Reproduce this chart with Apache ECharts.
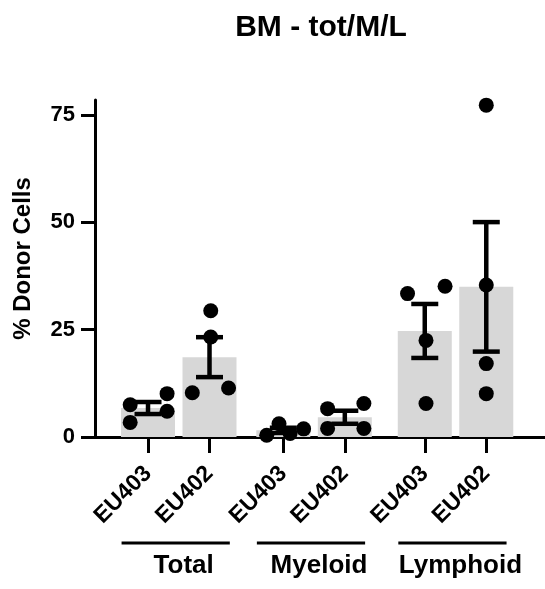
<!DOCTYPE html>
<html>
<head>
<meta charset="utf-8">
<script src="https://cdn.jsdelivr.net/npm/echarts@6/dist/echarts.min.js"></script>
<style>
  html, body { margin: 0; padding: 0; background: #fff; }
  #chart { width: 545px; height: 589px; }
</style>
</head>
<body>
<div id="chart"></div>
<script>
// ---- data ----
const groups = ['Total', 'Myeloid', 'Lymphoid'];
const donors = ['EU403', 'EU402'];
const yTicks = [0, 25, 50, 75];

// % donor cells per animal
const totalEU403    = [7.5, 3.4, 10.1, 6.0];
const totalEU402    = [29.4, 23.3, 10.3, 11.4];
const myeloidEU403  = [0.4, 3.1, 0.8, 1.9];
const myeloidEU402  = [6.6, 7.8, 2.0, 2.0];
const lymphoidEU403 = [33.4, 35.1, 22.5, 7.8];
const lymphoidEU402 = [77.3, 35.4, 17.1, 10.1];

// horizontal scatter of the dots inside each column (axis units)
const jitterTotal403 = [-0.29, -0.29, 0.31, 0.31];
const jitterTotal402 = [0.02, 0.02, -0.28, 0.31];
const jitterMye403   = [-0.27, -0.07, 0.11, 0.33];
const jitterMye402   = [-0.28, 0.31, -0.28, 0.31];
const jitterLym403   = [-0.28, 0.33, 0.02, 0.02];
const jitterLym402   = [0, 0, 0, 0];

// ---- layout of the category slots along the x value axis ----
const groupStart = [0, 2.2, 4.5];

const values = [
  [totalEU403, totalEU402],
  [myeloidEU403, myeloidEU402],
  [lymphoidEU403, lymphoidEU402]
];
const jitters = [
  [jitterTotal403, jitterTotal402],
  [jitterMye403, jitterMye402],
  [jitterLym403, jitterLym402]
];

function mean(a) { return a.reduce((s, v) => s + v, 0) / a.length; }
function sem(a) {
  const m = mean(a);
  const v = a.reduce((s, x) => s + (x - m) * (x - m), 0) / (a.length - 1);
  return Math.sqrt(v) / Math.sqrt(a.length);
}

const slots = [];
groups.forEach((g, gi) => {
  donors.forEach((d, di) => {
    const vals = values[gi][di];
    slots.push({
      x: groupStart[gi] + di,
      donor: d,
      vals: vals,
      jit: jitters[gi][di],
      mean: mean(vals),
      sem: sem(vals)
    });
  });
});

const slotX = slots.map(s => s.x);
const barData = slots.map(s => [s.x, s.mean]);
const errData = slots.map(s => [s.x, s.mean, s.mean - s.sem, s.mean + s.sem]);
const dotData = [];
slots.forEach(s => s.vals.forEach((v, i) => dotData.push([s.x + s.jit[i], v])));

const FONT = '"Liberation Sans", Arial, Helvetica, sans-serif';
const INK = '#000';

const chart = echarts.init(document.getElementById('chart'), null, { renderer: 'canvas' });

chart.setOption({
  animation: false,
  backgroundColor: '#fff',
  title: {
    text: 'BM - tot/M/L',
    left: 316,
    top: 8,
    textAlign: 'center',
    textStyle: { fontFamily: FONT, fontWeight: 'bold', fontSize: 30, color: INK }
  },
  grid: { left: 95, right: 0, top: 100, bottom: 152, containLabel: false },
  xAxis: {
    type: 'value',
    min: -0.862,
    max: 6.455,
    splitLine: { show: false },
    axisLine: { show: true, onZero: false, lineStyle: { color: INK, width: 3 } },
    axisTick: {
      show: true, length: 16, customValues: slotX,
      lineStyle: { color: INK, width: 3 }
    },
    axisLabel: {
      customValues: slotX,
      rotate: 45,
      margin: 33,
      fontFamily: FONT, fontWeight: 'bold', fontSize: 23, color: INK,
      formatter: function (v) {
        let best = slots[0], bd = Infinity;
        slots.forEach(s => { const d = Math.abs(s.x - v); if (d < bd) { bd = d; best = s; } });
        return best.donor;
      }
    }
  },
  yAxis: {
    type: 'value',
    min: 0,
    max: 78.5,
    interval: 25,
    name: '% Donor Cells',
    nameLocation: 'middle',
    nameRotate: 90,
    nameGap: 60,
    nameTextStyle: { fontFamily: FONT, fontWeight: 'bold', fontSize: 24, color: INK, padding: [0, 0, 0, 20] },
    splitLine: { show: false },
    axisLine: { show: true, onZero: false, lineStyle: { color: INK, width: 3 } },
    axisTick: { show: true, length: 14, customValues: yTicks, lineStyle: { color: INK, width: 3 } },
    axisLabel: {
      customValues: yTicks,
      margin: 20,
      fontFamily: FONT, fontWeight: 'bold', fontSize: 22, color: INK
    }
  },
  series: [
    {
      type: 'bar',
      data: barData,
      barWidth: 54,
      itemStyle: { color: '#d7d7d7' },
      z: 1
    },
    {
      type: 'custom',
      data: errData,
      z: 2,
      renderItem: function (params, api) {
        const x = api.value(0);
        const lo = api.coord([x, api.value(2)]);
        const hi = api.coord([x, api.value(3)]);
        const half = 13.5;
        const st = { stroke: INK, lineWidth: 4.5 };
        return {
          type: 'group',
          children: [
            { type: 'line', shape: { x1: hi[0], y1: hi[1], x2: lo[0], y2: lo[1] }, style: st },
            { type: 'line', shape: { x1: hi[0] - half, y1: hi[1], x2: hi[0] + half, y2: hi[1] }, style: st },
            { type: 'line', shape: { x1: lo[0] - half, y1: lo[1], x2: lo[0] + half, y2: lo[1] }, style: st }
          ]
        };
      }
    },
    {
      type: 'scatter',
      data: dotData,
      symbol: 'circle',
      symbolSize: 15,
      itemStyle: { color: INK, opacity: 1 },
      z: 3
    }
  ]
});

// group brackets and names under the donor labels
function px(v) { return chart.convertToPixel({ xAxisIndex: 0 }, v); }
const lineY = 543;
const graphics = [];
groups.forEach((g, gi) => {
  const x0 = px(groupStart[gi] - 0.43);
  const x1 = px(groupStart[gi] + 1 + 0.33);
  graphics.push({
    type: 'line',
    shape: { x1: x0, y1: lineY, x2: x1, y2: lineY },
    style: { stroke: INK, lineWidth: 3 }
  });
  graphics.push({
    type: 'text',
    x: px(groupStart[gi] + 0.58),
    y: 566,
    style: {
      text: g, align: 'center', verticalAlign: 'middle',
      font: 'bold 26px ' + FONT, fill: INK
    }
  });
});
chart.setOption({ graphic: graphics });
</script>
</body>
</html>
